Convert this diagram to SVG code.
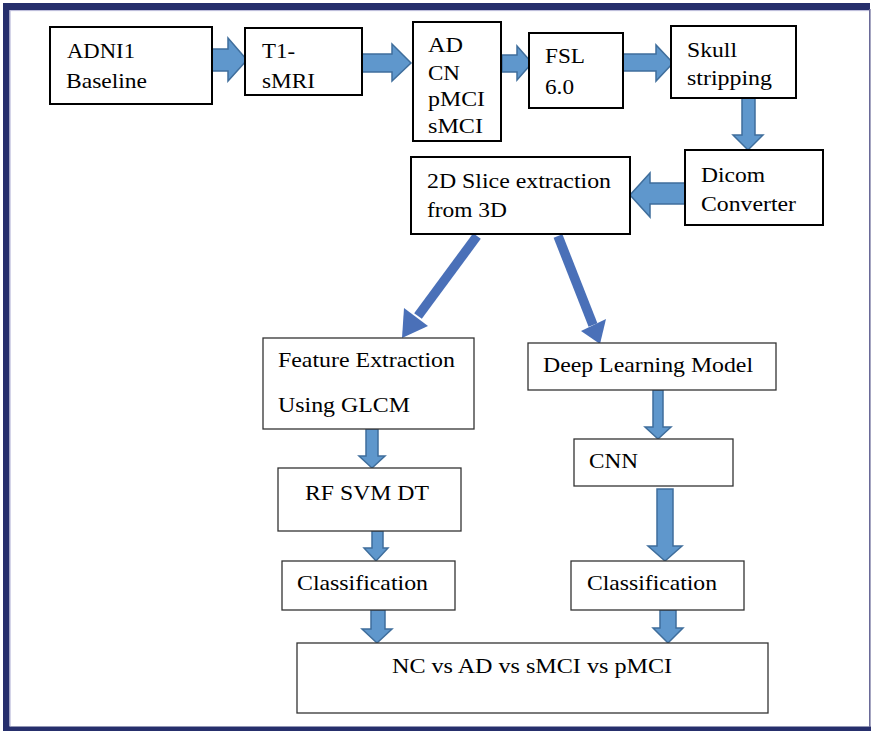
<svg xmlns="http://www.w3.org/2000/svg" width="871" height="731" viewBox="0 0 871 731">
<style>
  .bx{fill:#fff;stroke:#000;stroke-width:2}
  .bl{fill:#fff;stroke:#333;stroke-width:1.3}
  .t{font-family:"Liberation Serif","Times New Roman",serif;font-size:21px;fill:#000}
  .ba{fill:#5f97cc;stroke:#3f6e9c;stroke-width:1.5;stroke-linejoin:miter}
  .dg{stroke:#4a70b8;stroke-width:9.5;fill:none}
  .dh{fill:#4a70b8}
</style>
<rect x="0" y="0" width="871" height="731" fill="#fff"/>
<g id="frame">
  <rect x="3" y="3" width="867" height="7" fill="#262f6c"/>
  <rect x="3" y="3" width="6.5" height="728" fill="#262f6c"/>
  <rect x="3" y="726.5" width="868" height="4.5" fill="#262f6c"/>
  <line x1="869.8" y1="9" x2="869.8" y2="727" stroke="#6a6a98" stroke-width="1.6"/>
  <line x1="10" y1="10.6" x2="869" y2="10.6" stroke="#b8b8d8" stroke-width="1"/>
  <line x1="10.1" y1="10.6" x2="10.1" y2="726" stroke="#b8b8d8" stroke-width="1"/>
</g>
<g id="connectors">
  <polygon class="ba" points="212,49 228,49 228,38 247,60 228,81 228,71 212,71"/>
  <polygon class="ba" points="362,54 392,54 392,44 411,63 392,81 392,72 362,72"/>
  <polygon class="ba" points="502,55 517,55 517,46 532,63 517,80 517,72 502,72"/>
  <polygon class="ba" points="623,54 656,54 656,45 673,63 656,81 656,71 623,71"/>
  <polygon class="ba" points="742,98 755,98 755,135 763,135 748,150 733,135 742,135"/>
  <polygon class="ba" points="685,183 650,183 650,173 630,195 650,217 650,204 685,204"/>
  <line class="dg" x1="477" y1="236" x2="418" y2="316"/>
  <polygon class="dh" points="402,338 404,308 428,326"/>
  <line class="dg" x1="558" y1="236" x2="593" y2="325"/>
  <polygon class="dh" points="600,344 581,331 606,319"/>
  <polygon class="ba" points="366,429 378,429 378,456 385,456 372,468 359,456 366,456"/>
  <polygon class="ba" points="372,531 383,531 383,548 388,548 376,561 364,548 372,548"/>
  <polygon class="ba" points="371,610 385,610 385,629 392,629 377,643 362,629 371,629"/>
  <polygon class="ba" points="653,390 663,390 663,427 671,427 658,439 645,427 653,427"/>
  <polygon class="ba" points="657,489 673,489 673,546 682,546 665,561 648,546 657,546"/>
  <polygon class="ba" points="660,610 676,610 676,628 683,628 668,643 653,628 660,628"/>
</g>
<g id="adni">
  <rect class="bx" x="50" y="27" width="162" height="77"/>
  <text class="t" x="67" y="58" textLength="68" lengthAdjust="spacingAndGlyphs">ADNI1</text>
  <text class="t" x="66" y="88" textLength="81" lengthAdjust="spacingAndGlyphs">Baseline</text>
</g>
<g id="t1">
  <rect class="bx" x="245" y="28" width="117" height="67"/>
  <text class="t" x="262" y="58" textLength="33" lengthAdjust="spacingAndGlyphs">T1-</text>
  <text class="t" x="262" y="88" textLength="53" lengthAdjust="spacingAndGlyphs">sMRI</text>
</g>
<g id="classes">
  <rect class="bx" x="413" y="22" width="88" height="119"/>
  <text class="t" x="428" y="52" textLength="35" lengthAdjust="spacingAndGlyphs">AD</text>
  <text class="t" x="428" y="80" textLength="32" lengthAdjust="spacingAndGlyphs">CN</text>
  <text class="t" x="428" y="106" textLength="57" lengthAdjust="spacingAndGlyphs">pMCI</text>
  <text class="t" x="428" y="133" textLength="55" lengthAdjust="spacingAndGlyphs">sMCI</text>
</g>
<g id="fsl">
  <rect class="bx" x="529" y="33" width="94" height="75"/>
  <text class="t" x="545" y="63" textLength="40" lengthAdjust="spacingAndGlyphs">FSL</text>
  <text class="t" x="545" y="94" textLength="29" lengthAdjust="spacingAndGlyphs">6.0</text>
</g>
<g id="skull">
  <rect class="bx" x="671" y="26" width="125" height="72"/>
  <text class="t" x="687" y="57" textLength="50" lengthAdjust="spacingAndGlyphs">Skull</text>
  <text class="t" x="687" y="85" textLength="85" lengthAdjust="spacingAndGlyphs">stripping</text>
</g>
<g id="dicom">
  <rect class="bx" x="685" y="150" width="138" height="75"/>
  <text class="t" x="701" y="182" textLength="64" lengthAdjust="spacingAndGlyphs">Dicom</text>
  <text class="t" x="701" y="211" textLength="95" lengthAdjust="spacingAndGlyphs">Converter</text>
</g>
<g id="slice">
  <rect class="bx" x="411" y="157" width="219" height="77"/>
  <text class="t" x="427" y="188" textLength="184" lengthAdjust="spacingAndGlyphs">2D Slice extraction</text>
  <text class="t" x="427" y="217" textLength="80" lengthAdjust="spacingAndGlyphs">from 3D</text>
</g>
<g id="feature">
  <rect class="bl" x="263" y="338" width="211" height="91"/>
  <text class="t" x="278" y="367" textLength="177" lengthAdjust="spacingAndGlyphs">Feature Extraction</text>
  <text class="t" x="278" y="412" textLength="132" lengthAdjust="spacingAndGlyphs">Using GLCM</text>
</g>
<g id="deep">
  <rect class="bl" x="528" y="343" width="248" height="47"/>
  <text class="t" x="543" y="372" textLength="210" lengthAdjust="spacingAndGlyphs">Deep Learning Model</text>
</g>
<g id="rfsvm">
  <rect class="bl" x="278" y="468" width="183" height="63"/>
  <text class="t" x="305" y="500" textLength="124" lengthAdjust="spacingAndGlyphs">RF SVM DT</text>
</g>
<g id="cnn">
  <rect class="bl" x="574" y="439" width="159" height="47"/>
  <text class="t" x="589" y="468" textLength="49" lengthAdjust="spacingAndGlyphs">CNN</text>
</g>
<g id="classL">
  <rect class="bl" x="282" y="561" width="173" height="49"/>
  <text class="t" x="297" y="590" textLength="131" lengthAdjust="spacingAndGlyphs">Classification</text>
</g>
<g id="classR">
  <rect class="bl" x="571" y="561" width="173" height="49"/>
  <text class="t" x="587" y="590" textLength="130" lengthAdjust="spacingAndGlyphs">Classification</text>
</g>
<g id="final">
  <rect class="bl" x="297" y="643" width="471" height="70"/>
  <text class="t" x="392" y="673" textLength="280" lengthAdjust="spacingAndGlyphs">NC vs AD vs sMCI vs pMCI</text>
</g>
</svg>
